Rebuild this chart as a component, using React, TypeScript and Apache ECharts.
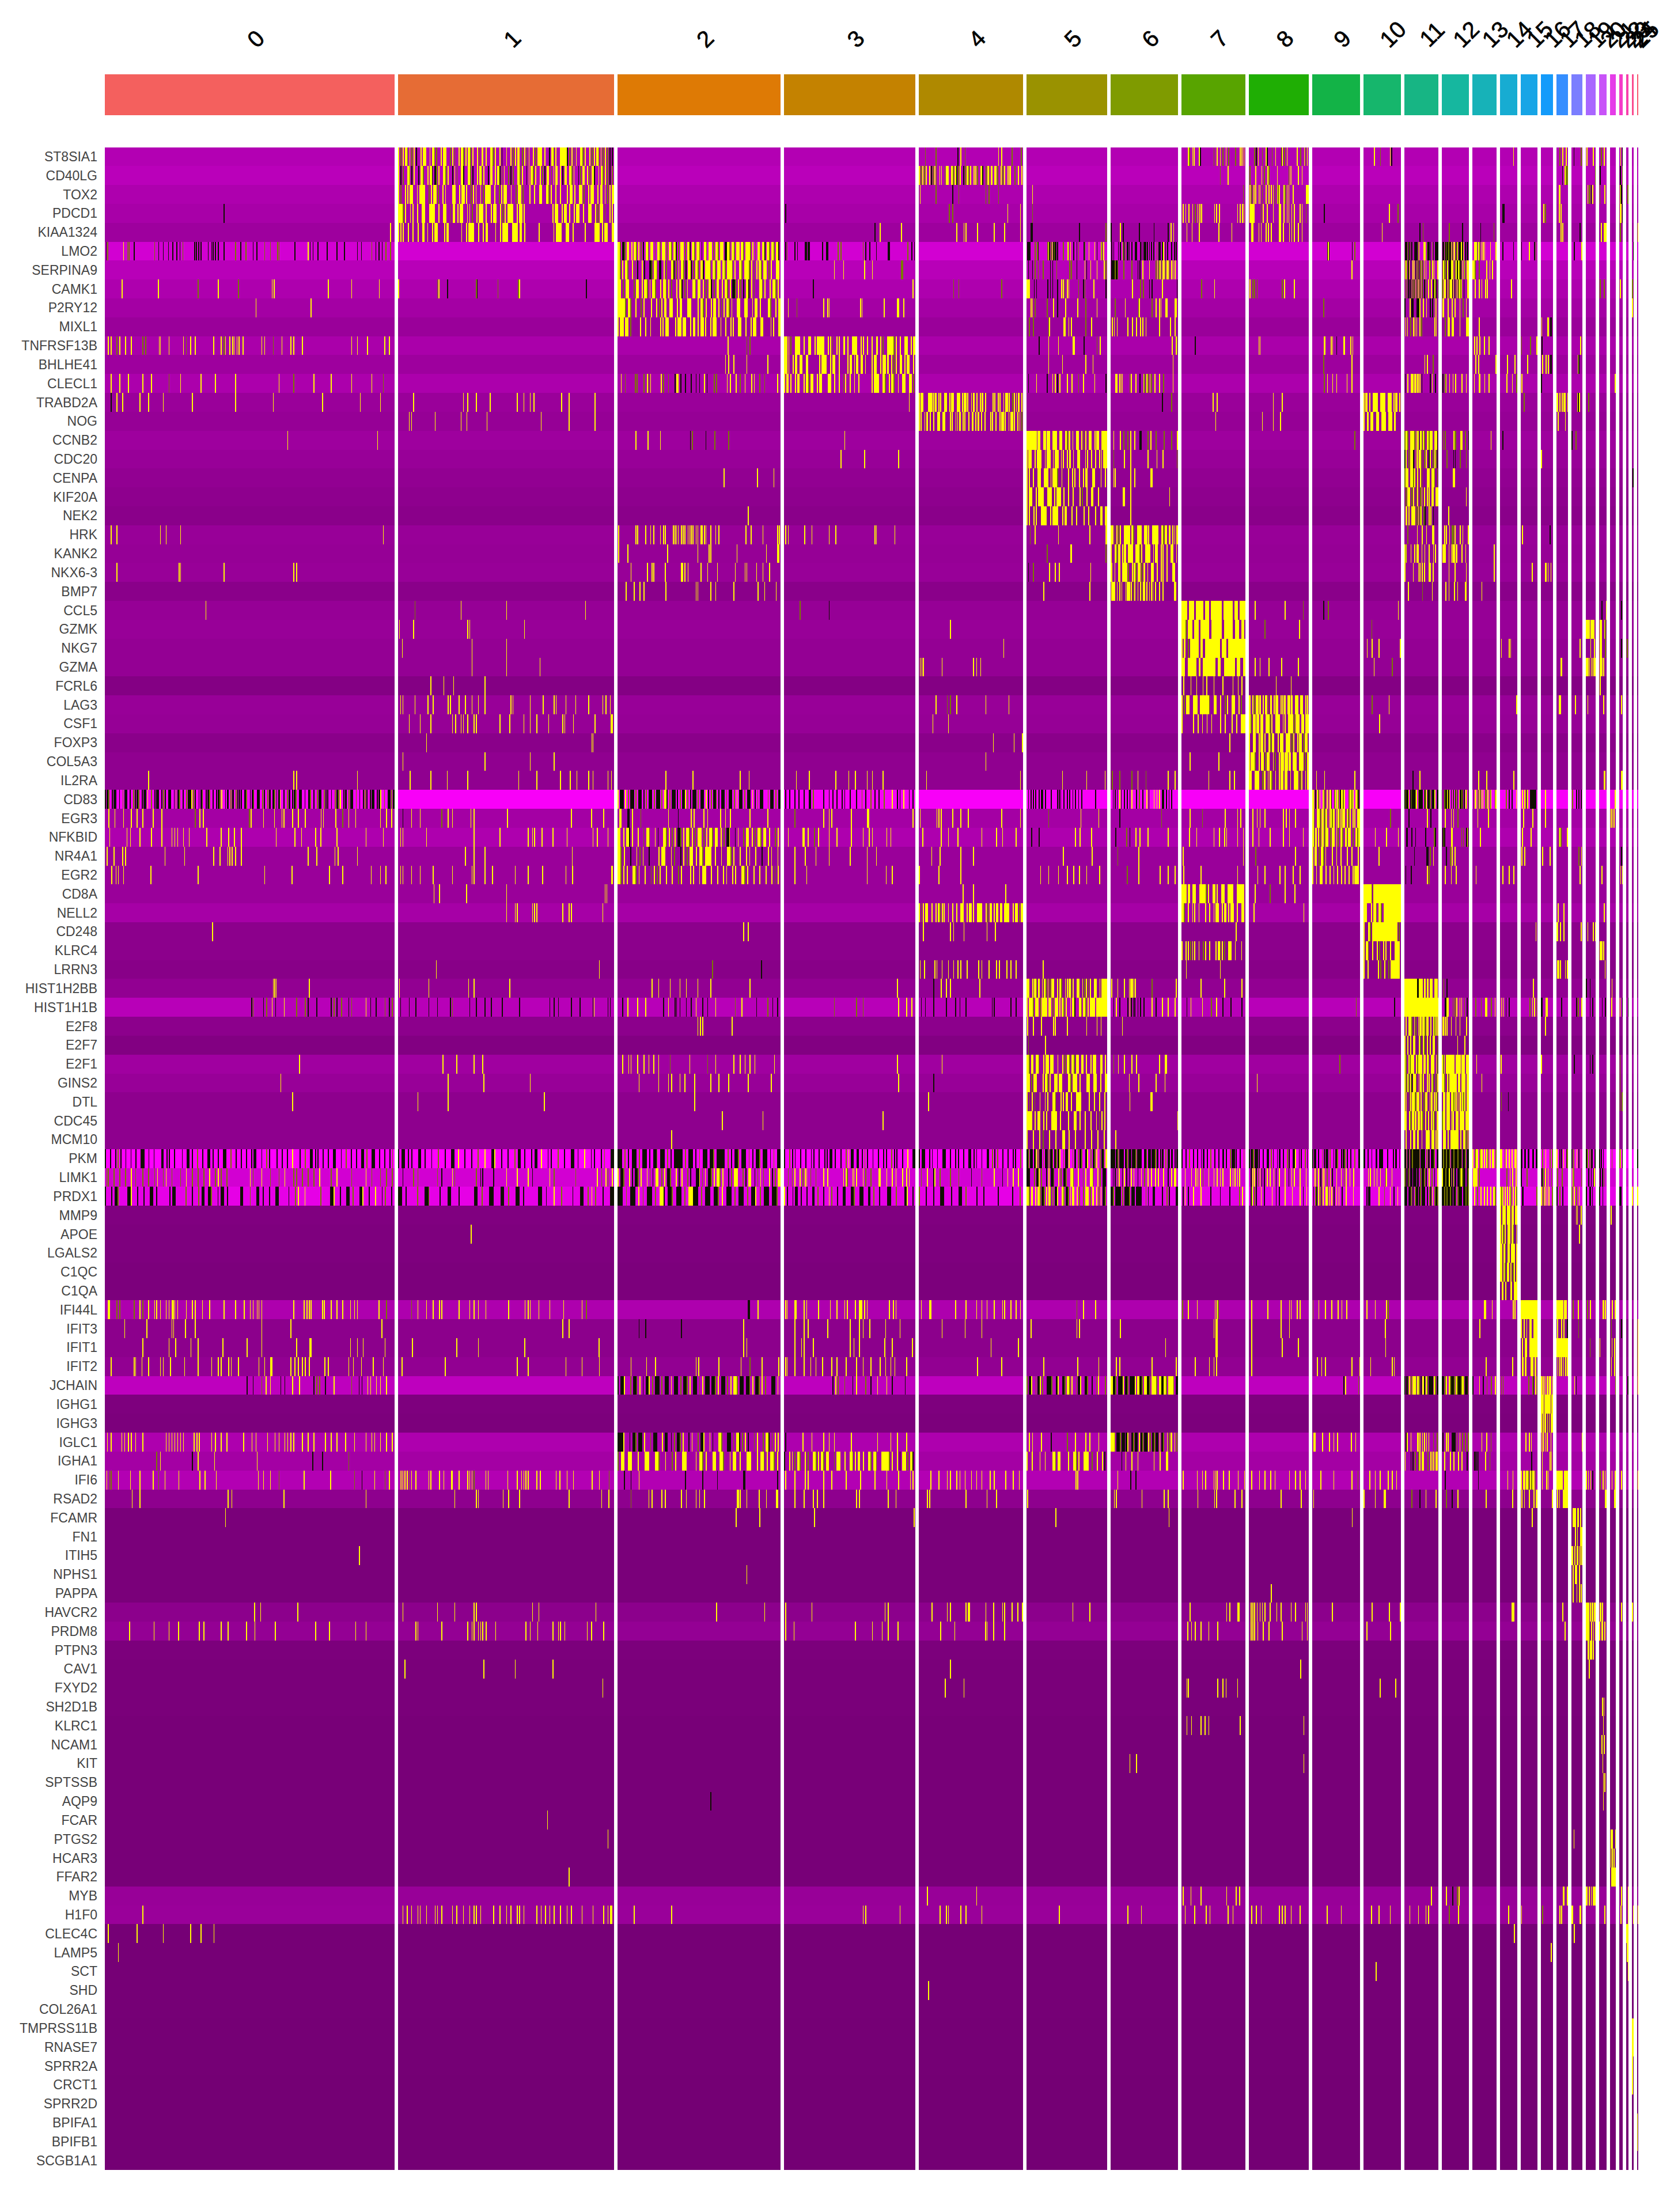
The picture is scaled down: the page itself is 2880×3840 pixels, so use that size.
import React, { useEffect, useRef } from "react";
import * as echarts from "echarts";

const clusterNames = ["0","1","2","3","4","5","6","7","8","9","10","11","12","13","14","15","16","17","18","19","20","21","22","23","24","25"];
const clusterSizes = [503,375,283,228,181,140,117,111,104,83,65,59,47,42,30,29,21,20,19,17,13,10,6,4,3,2];
const clusterColors = ["#F4605E","#E66C35","#DE7A05","#C48200","#AF8900","#9A9200","#7F9B00","#58A400","#1FAE04","#13B347","#16B66C","#17B584","#16B79F","#17B2B8","#17ACD2","#17A5E6","#149BFA","#358EFF","#7B7EFF","#A966FF","#C853F8","#E53DE8","#F53BC8","#F93FAC","#FA4B8E","#F8596F"];
const groupGap = 6;

const genes = ["ST8SIA1","CD40LG","TOX2","PDCD1","KIAA1324","LMO2","SERPINA9","CAMK1","P2RY12","MIXL1","TNFRSF13B","BHLHE41","CLECL1","TRABD2A","NOG","CCNB2","CDC20","CENPA","KIF20A","NEK2","HRK","KANK2","NKX6-3","BMP7","CCL5","GZMK","NKG7","GZMA","FCRL6","LAG3","CSF1","FOXP3","COL5A3","IL2RA","CD83","EGR3","NFKBID","NR4A1","EGR2","CD8A","NELL2","CD248","KLRC4","LRRN3","HIST1H2BB","HIST1H1B","E2F8","E2F7","E2F1","GINS2","DTL","CDC45","MCM10","PKM","LIMK1","PRDX1","MMP9","APOE","LGALS2","C1QC","C1QA","IFI44L","IFIT3","IFIT1","IFIT2","JCHAIN","IGHG1","IGHG3","IGLC1","IGHA1","IFI6","RSAD2","FCAMR","FN1","ITIH5","NPHS1","PAPPA","HAVCR2","PRDM8","PTPN3","CAV1","FXYD2","SH2D1B","KLRC1","NCAM1","KIT","SPTSSB","AQP9","FCAR","PTGS2","HCAR3","FFAR2","MYB","H1F0","CLEC4C","LAMP5","SCT","SHD","COL26A1","TMPRSS11B","RNASE7","SPRR2A","CRCT1","SPRR2D","BPIFA1","BPIFB1","SCGB1A1"];

// scaled expression of the non-expressing cells of every gene
const rowLevels = [-1.75,-1.82,-1.71,-1.65,-1.55,-2.06,-1.8,-1.71,-1.61,-1.51,-1.67,-1.55,-1.69,-1.51,-1.47,-1.55,-1.49,-1.43,-1.39,-1.35,-1.49,-1.47,-1.49,-1.35,-1.47,-1.49,-1.45,-1.45,-1.29,-1.49,-1.47,-1.35,-1.41,-1.41,-2.43,-1.61,-1.71,-1.51,-1.51,-1.51,-1.63,-1.37,-1.37,-1.33,-1.43,-1.8,-1.37,-1.27,-1.57,-1.49,-1.39,-1.39,-1.39,-2.5,-2.06,-2.25,-1.25,-1.24,-1.24,-1.22,-1.22,-1.71,-1.37,-1.37,-1.43,-1.86,-1.24,-1.22,-1.71,-1.61,-1.75,-1.39,-1.2,-1.2,-1.2,-1.2,-1.2,-1.37,-1.45,-1.22,-1.2,-1.2,-1.2,-1.18,-1.18,-1.18,-1.18,-1.18,-1.18,-1.18,-1.18,-1.18,-1.49,-1.51,-1.16,-1.16,-1.16,-1.16,-1.16,-1.15,-1.15,-1.15,-1.14,-1.14,-1.14,-1.14,-1.14];

const cellValue: Record<string, number> = { y: 2.5, o: 1.2, k: 0.15 };

// hits per gene: [cluster, text]. A text with digits lists percent positions inside the cluster; a text without digits is a strip of cells.
const hitsTcell = {
  ST8SIA1: [[1,"yoyYoyoyk.yYy.yYoo.yYy.oyo.yYoyYoy.yoY.y.Yoy.yk.y.yoyY.oyoy.yoYY.y.kYoy.YYYkoyoy.Yoy.yoyYoyoyokk"],[4,"6o 16o 37k 40 44o 76 79 89o 98o"],[7,"10 12o 17 19 27 29k 50o 55 60 64o 69 73o 84o 91 94 97"],[8,"9o 12k 15 22o 28 30k 38o 44 54k 55 59o 63 80 86o 92 94o 97"],[10,"28 44o 70 74k"],[14,"75"],[17,"27o 50 82"],[18,"20k 86o"],[19,"6 72"],[20,"25o 65"],[22,"25 85k"]],
  CD40LG: [[1,"yko.Yoky.kYo.yYkKoy.Yoy.kyo.Yk.Yok.yYoy.kY.yYkoy.oko.Yoy.kyYoy.yokY.oyY.ykY.Yoy.koY.yoYk.yYoyoko"],[4,"yoyoy.ykoyo.yy.oYy.YoYkoy.koYoy.yyo.Yk.oYoY.Yyo.yoy.yY..o.y.y"],[7,"60o 72"],[8,"1o 11 21 25o 31 33o 47 66o 68 70 82 88"],[17,"48k 70 82o 92o 96o"],[19,"96o"],[20,"10k"],[22,"20k 80o"]],
  TOX2: [[1,"yo.yyYy.yYYy.oyYyo.yy..Yy.yYyy.oyy.yoYYy.y.oyYy.y.oYyo..y.y.Yy.Yoy.y.y..yYyy.Yyo.yYy.yY.yoyY"],[4,"1 16o 32k 38o 64o 67o 76o"],[5,"7"],[7,"96o"],[8,"1 4o 8 11 16 18 22o 28 33 37 40 43o 47 48o 50 58 60o 63 66 73 95Y 97Y 99"],[17,"22Y 25"],[19,"15 28o 33o 40o 50k 65"],[20,"5o 72"],[22,"15 40o 55k"],[23,"60o"]],
  PDCD1: [[0,"41k"],[1,"YYoy.yy.y.Yy.YYy.y.Yy.oY.yYy.yyo.yYY.y.yYy.yoyYYy.yYyy...........yYy.yY.y.yYy.y.Yy.yoYyo.yy"],[3,"1k"],[4,"29o 32o 85 97"],[5,"7o"],[7,"2 6 11 17 21o 25 28 31 51 54 59 87 91 95 97"],[8,"1Y 5Y 8 20o 23 30 40 50 52 58 63 66 71 75 85 88 95o"],[9,"24k"],[10,"68 91o"],[14,"14k 21k"],[16,"19 35o"],[17,"20 36"],[22,"20Y 30Y 80k"]],
  KIAA1324: [[0,"98.5"],[1,"yyy.y.y.y.Y.y.yYy..yY.....y.yYYy.y.yY...y.yYYy.YYyY.y.....y.....yYYy.Yy.y....y...YY.yYy.Y"],[3,"69k 73 89"],[4,"36 43 45 56 72 82 97"],[5,"5K 65k 98o"],[6,"0k 14 18k 42k 64k 85k 89 93"],[7,"8 16 27 58 78"],[8,"4 6 16 20 28 32 37 50 52 57 67 71 75 82 88"],[10,"49"],[11,"44k 54o"],[12,"26o 75k"],[13,"33k 87o"],[17,"37 50"],[18,"75k"],[20,"25 65Y 88"],[22,"20o"],[25,"50Y"]],
};
const hitsGc = {
  LMO2: [[0,"0.3k 0.8o 6.3 7.7o 8.2o 10k 17o 18.4k 20k 21.8k 23.3k 24.7k 25.8k 26.8o 30.9k 31.4k 32.3k 33k 35.5k 36.7k 37.2k 38k 39k 41k 45o 46.7k 48.5o 51k 52.3k 55o 57o 59.5o 60o 65.4k 70 70.7k 71.7k 73.4k 76.6k 80k 82.5k 87k 88.4k 92o 93.4k 94.5k 95.6k 96.8o 98.5o"],[2,"YoKoY.yYoyokYoYyoYoYyoYoYkoYyoYkYoYokYoYyoYoYyKYoYoYyYoYYoyoYoYkYoYoYk"],[3,"1k 2o 8k 10k 16K 18K 29k 32k 33k 41o 43o 60o 62k 65k 70k 79K 94o 97k 99k"],[5,"1k 2K 4k 10o 13o 14k 26o 27 28k 30o 32 33k 34o 35k 36k 38k 45o 51 52o 54 58k 62k 64o 71k 72o 77 84 87k 92 93o 95"],[6,"1k 4k 11k 14k 18 19k 21o 24k 25k 27k 31k 36K 44k 46k 49K 52k 54k 57k 60k 63k 64k 68o 71k 73k 76k 78 81k 84k 90k 94k 97k"],[9,"31K 33 83k 88o"],[11,"2k 4K 8o 12k 15o 18k 20k 23k 28K 32K 36k 40o 42 56 60 66o 68k 72k 76k 81o 84k 90K 96K"],[12,"3k 6k 10o 13k 16o 20k 24o 27k 30k 33 38k 40 45 50k 53o 57 62k 66k 70 75k 78 85k 92k 95k"],[13,"8 10 15 18o 24Y 29o 37 44 49 73 95"],[14,"14k 75k"],[15,"2k 48 80k 88o"],[18,"22k 90"],[24,"80k"]],
  SERPINA9: [[2,"YoyYo.yok.yk.KoYoK.yo.YkoyYokYkoYoYkYYoYoYyYoYYoy.YoYYoyoyYoYyoy.Yy"],[3,"38 45 61 67 89o 90o"],[5,"2k 7k 10o 14o 20o 29k 32k 37o 53o 55o 62k 72 74k 79 87 96 98o"],[6,"1K 4K 6o 8K 10o 19o 31o 40k 43k 47 57 67o 69 71o 73 75o 77 79 81o 83 85 87o 90 92 95"],[9,"82"],[11,"1Y 3o 6o 10k 13 18k 24 28 32k 36o 40o 42k 46o 50 52k 57 62 73 75o 82 86 96Y 98Y"],[12,"2o 5 8o 11o 16k 20 26k 30k 33 37 40 44o 48o 52 56k 60 64o 68k 74 80 84o 92Y 95Y"],[13,"1Y 10o 26o 57 71 82"]],
  CAMK1: [[0,"5.8 18.3 32o 39 46o 57.6 58.3 77 85 94.6"],[1,"0 18o 18.7 22.7k 36o 36.5k 46o 55.5o 56 87k"],[2,"YyoYy.oY.yYoyYo.yYoyo.yYkoy.YoY.yoYkoY.yYoyKoyokYkyo.Yoy.yYoy"],[3,"22k 98"],[4,"33o 38o 79o"],[5,"0Y 3 9k 12k 26k 29k 32k 38k 43 45 47o 50 52 64o 70k 72o 83 98k"],[6,"32 44o 48o 57k 61k 76 98k"],[7,"31o 51"],[8,"1 6o 9o 13o 55o 59 75"],[11,"3o 6o 10k 16k 20o 24o 28k 30 36o 40 44o 50 52k 58k 62o 70 78 85k 88 92k 98k"],[12,"1o 7 11 16k 21 26o 30 34 38k 42 46k 50o 55 60o 64 68o 72 80k 93Y 97"],[13,"10 27 37 53 60"],[14,"64"],[20,"8o 62o"],[22,"15"],[24,"10o"]],
  P2RY12: [[0,"52 71"],[2,"YYYoYo.y.oy..y.yoyY.Yy.yY..Yy..yYoy.yY.yoyYoy.Yy.Yy.yY.y..Yo.yY"],[3,"3 9.5o 30 33 34 58 59 76 86 87 91"],[5,"5 7 10o 25o 33 38k 48 63 73o 87"],[6,"6o 21 41o 42 61o 67 72 74 81Y 95 97"],[9,"23o"],[11,"0k 16 20k 22k 25k 36K 39K 44 55 64 75k 82k 89 93"],[12,"2 6 22 37 47 65 77o 89"],[24,"10"]],
  MIXL1: [[2,"yYyYyo...y.y.y...yyYy..yYyYy.yY.yYyy.yYy.y.y.yy.Yy.y.yYy.Y...yy.Y"],[5,"3o 8o 27o 28 46Y 52 55 73o 80"],[6,"2 5 9 25 32 38 44 47 52 72 88 95"],[11,"3 8 17o 26 30 35 44 49o 88 93"],[12,"11o 22Y 37 41 65 89Y 92Y"],[13,"26"],[16,"3 50 58 78K"]],
};
const hitsMem = {
  TNFRSF13B: [[0,"1 2 4o 5 7 9 13o 14o 18.6 19 22 27 28o 29.5 31 37.4 40 41o 41.5 43 44 44.5 45.5 46.2 47.5 54 55 58o 61 64 65 68 85 87 90.5 96.5 98"],[2,"67.6 79o 81o"],[3,"Yyyo.YYy.y.Yy.yYYYy.yyo.yy.Y.y.YYy.yy.y.y.Y.yo.YYYoy.y.Yy.yY"],[5,"15k 27 39 57Y 71k 87o 91"],[6,"91 97 98o"],[7,"21k"],[8,"16 18"],[9,"24 26 39 42 50k 65 67 80 84"],[13,"8 17 29 48 67"],[15,"2o 54Y 56o 94"],[16,"3o 5k"],[18,"80"]],
  BHLHE41: [[2,"66 68 71 79 92"],[3,"Yyy.yY.Yy.Y.....yYYy.yYy.y...yY.yY.Y.y..yYy.yYyY.yoy.Y.yYy.y"],[5,"27 44 73 82"],[6,"92"],[9,"23o 82"],[11,"59 66 83o"],[13,"12 24 95"],[14,"40 84"],[15,"38"],[16,"11 40 58 78K"],[18,"58Y 63k"]],
  CLECL1: [[0,"2 5 8 13 16 22o 26 33 38 45 60 65o 72 78 85 92 96o"],[2,"2 4.5o 10.6o 11.8o 16o 18 19o 20 26.5 28o 31o 35k 36Y 38.6k 41.5k 45k 48k 50k 53 54.6k 59o 60.5o 67 69 72.6 75o 78 82 83.6 87o 90o 98"],[3,"yY.y.yY..yYoYy.yYy..Yy.y.y.oy.y.y.y.....yYYy.Yo.yYo.y.Yy.Yyo"],[5,"2k 12 25k 32 35 38k 41 50 56 64o 70 84 98k"],[6,"7Y 13 15 17 28o 30 37 43k 49 50o 53 55o 58 60o 65 72 78o 92"],[9,"24o 31 42 50 72 82"],[11,"1k 9 19 22 25 29 33 37 39 44 50k 75k 81 90k"],[12,"2k 11o 14 27 40 49 73 89"],[13,"6 27 29 49 67"],[14,"38 69 94o"],[15,"5"],[16,"1k"],[21,"81"]],
  TRABD2A: [[0,"2k 4 6 12 15 20 30 45 58 75 88 95"],[1,"7 30 32 36 42.5 55 58 61 62.7 75.5 79 91"],[3,"95"],[4,"yYy..YYyyY.yy.Yy.yYy.YY.yYyy.yY.y.yY.y...yy.yy.yYyy.oyyY.y"],[6,"76k 90o"],[7,"49 55"],[8,"40 55"],[10,"yY.y.YYy.YYy.YY.yY.y"],[15,"18o"],[17,"0Y 27 45 60 70 95"],[18,"52 60K 68"],[19,"25o"]],
  NOG: [[1,"5 6 17 29 31.6 41 66 79 91"],[4,"yy.yY.y.y.Yy.Yy..yy.yyY.yy.y.Y.yY.y.y..yy.y.yYyy.yYyy.yyo"],[7,"53"],[8,"22 40 52"],[10,"y.Y.Yy.Yy.YYy.YY.Y..."],[17,"10 73"]],
};
const hitsCycleA = {
  CCNB2: [[0,"63 94"],[2,"11 18.5 26 44.4k 45.6o 54k 59.5o 68o"],[3,"46"],[5,"YYYYYyYy.YyYY.YYy.Yy.YoY.y.Yy.yoy.Yy.yYy.YYY"],[6,"4 14 19o 25o 29 35 43K 55o 59 67o 79o 90o 98Y"],[9,"88o"],[11,"oYo.YYYoyYkYoyo.YoYY.YYk"],[12,"4o 11o 43Y 47o 50o 68Y 85o 98k"],[13,"75"],[14,"14k"],[18,"2k 39o"]],
  CDC20: [[3,"43 61 87"],[5,"yYy.yYYy.yYY.yYY.yy.yY.y.Yy..yy.y.y.yyYY"],[6,"4o 20 29 55 68 77 98o"],[11,"ky.oyYk.yyYyo.oY.ky.oYok"],[12,"17o 42k 48k 66o 89o"],[16,"2"]],
  CENPA: [[2,"65 85.5 95.6"],[5,"yy.y.Yy.YY.yYYo.y..y.yy.y.yY..Yy..y.y"],[6,"4 6 29 35 59 61"],[11,"oYy.YYoy.y.yo...YY.YYo.o"],[12,"40Y"],[24,"40k"]],
  KIF20A: [[5,"yYy.yYYy.YY.yYY.y.y.y..yo.y.Y..y..."],[6,"18 20 29 87"],[11,".oYY.oY.oy.oy.y.yY.Yy.YY"],[12,"89"]],
  NEK2: [[2,"80"],[5,"yy.yy.YYy.yYYy.yY..y.y..y.y..y.Y.Y"],[6,"29"],[11,".Y.y.YYY.oyoy.ok..yy.k..."],[12,"24"]],
  HRK: [[0,"2 4 19 21 26 96"],[2,"0.5 11 12 17 20 22 26 28 29 34 35 36 37 39 40 41 43 44 45 46 48 49 51 51.6 53 54 57 60 62 78.6 81.7 89 98 99"],[3,"1 3 15.5 21 34 39 69 70 84"],[5,"4o 10 39 78 98 99"],[6,"Yyoyoy.YYYyYo.YYy.Yyy.YYYy.YoY.Y.yyY"],[11,"9o 37 51 64 82Y 85"],[12,"9 15 27 36O 47 66 76 96"],[15,"8"],[16,"73k"]],
  KANK2: [[2,"0.5 6 30.5 49 56 57 73 91 98 98.7"],[5,"25o 54 55 98o"],[6,"y.YoY.yY.YYy.YYoy.YYy.yYy.yy.y.Yy.y"],[11,"0Y 3o 18 29 36Y 38 50 59 72 84 90"],[12,"2Y 6Y 25 33 38 41 45 50 54 73 87"],[13,"89"]],
  "NKX6-3": [[0,"4 25.5 26 41 65 66"],[2,"8 18 21 22 29 39 39.6 41 43 51 55 61 72 78 79 85 89 93"],[5,"2k 8o 28 35 40 79"],[6,"Y.y.Y.YYyo.yYoYyoY.y.Yy.y.yy.y..Yy."],[11,"0 25 40 44 51 58 72 75 83"],[12,"25 47 89"],[13,"89"],[15,"67"],[16,"32 40 55 79"]],
  BMP7: [[2,"5 10 13.5 16 29.5 48 49 57 60 71 86 90 97"],[5,"21 78"],[6,"1Y 3Y 9 13 16 22 24Y 26Y 30 33o 35 40 44 46o 48 50 53 57 60 62 66 72 77 94Y 96"],[11,"10 52o 81"],[12,"13 25 45 57 86 89"],[13,"37"]],
};
const hitsCyto = {
  CCL5: [[0,"34.7"],[1,"7.6o 29 50 86.6"],[3,"12o 34k"],[7,"YYY.YYY.YYYY.YY.YYYYYY.YYYYY.YY.YYY"],[8,"10 60 90o"],[9,"23k 33o"],[10,"92"],[20,"30K 95Y"],[22,"50k"]],
  GZMK: [[1,"0.4 7 32 33 58.3"],[4,"30"],[7,"YYoYY.YY.YYYY.YYYYY.YYYY.YY.Yy"],[8,"26o 84"],[10,"21o"],[19,"YYYYYYY.YYYYYYY.."],[20,"5Y 20Y 70 78o"]],
  NKG7: [[1,"1.8 34 50"],[4,"81"],[7,"yY.oYYYY.Y.YYYYYYY.YY.YYYYYYYY"],[10,"9 22 40 97"],[14,"6 51 59"],[18,"75"],[19,"45 85"],[20,"5Y 22Y 78o"],[22,"50k"],[23,"30o"]],
  GZMA: [[1,"34 50 65.5"],[4,"1 2.5 4 22 52 55 59"],[7,"Yy.YYYY.Y.YYYYYY.Yy.YYYYY.Yy.Y"],[8,"10 18 33 54 82"],[10,"27 76o"],[17,"33 42"],[19,"YYYY.y.y.y.YYY"],[20,"10Y 30 50 60"]],
  FCRL6: [[1,"15 21 25.5 40"],[7,"3 14 23 33 39 50 64 80 88 94"],[8,"45 70"],[20,"10"]],
  LAG3: [[1,"1 2 7.6 13.6 16 23 24 28 31 34 37 40 52 53 61 67 72 73 77.5 82 88 94.6 96 98"],[4,"16 27o 30o 36 64 86"],[7,"yoYy.YY.YYYYo.Yy.y.oy.Yy.yo."],[8,"Y.yoYyY.yYyoY.yYy.yyY.YyY.YY.Yy.yy"],[10,"22o 67"],[14,"94"],[17,"22Y 25Y"],[18,"32"],[19,"15"],[20,"55"],[22,"50"]],
  CSF1: [[1,"5 10 15 25 26.5 29 30 32 35 36 47 51.5 58 61 64 69.5 76 77 81 91 98.5 99"],[4,"13 28"],[7,"y....y.y.y.y.y...y.y..y.y.YY"],[8,"YoYyYyYy.YYoy.YYy.yy.YYyoYY.YyYY"],[10,"42"]],
  FOXP3: [[1,"13 89.5 90"],[4,"71 91 99"],[7,"75"],[8,"y.Yy.yYyy.YoY..yYY.YYyoy.yYyoYy"]],
  COL5A3: [[1,"2 40 61 72"],[4,"64"],[7,"13 58"],[8,"yYYo.yYyoYy.yo.yYyYyY.YY.YYyoY"]],
  IL2RA: [[0,"15 65 66 87"],[1,"5.4 15 22.6 32 55.7 64 75 79.5 82.6 88 90 97 98.6"],[2,"29.5 46 75 80.5"],[3,"9 19 39 49 54 63 67 75"],[4,"7 97"],[5,"44 74 97"],[6,"2o 13o 31o 40 52o 85 95"],[7,"42 75 82"],[8,"Yy.YYy.oY.yYo.y.yYyYy.y.YYyoy.yY"],[9,"8 25 88"],[11,"24k 44"],[13,"24 58"],[14,"78"],[20,"65 75"],[22,"50 80"]],
};
const hitsActivated = {
  CD83: [[0,"kKo.kKk.k.oKk.k.okKo.kKky.o.kKk.kok.Kk.koKo.k.oKKyok.kKo.kKo.k.kKoy.kK.oK.okkk.Ko.kKo.Kk.ok.oK.KokKy.k.oK.kKo.Kk.k.Ko.k.oKk.okk.k.oKoy.kK.oKk.o.k.kok.kKk.kKy.o.KkoK"],[2,"yKkyoKkoKkkoKkoKkoYkoKkkoKyokKkoKkykoKokKkoKkoyKkoKkykoKk.oKkoK"],[3,"1k 4k 8k 11k 15k 19K 22o 30k 34k 37k 40k 44k 46k 50k 55k 59o 62k 66o 69k 72k 76o 82 86k 88k 91 95k 98k"],[5,"2k 5k 8k 11k 15k 18K 23k 30k 38k 40k 42k 46k 50k 53k 57k 60k 64k 68k 85k"],[6,"3k 6k 9k 13 15k 20k 24k 28k 31 38k 42o 47k 53 56k 64 68 72 76k 78k 82k 86k 90k"],[9,"YokYoy.YokyoYk.oyYokYoy..oYoy.Yok"],[11,"koKky.koKkKoy.okKkk.oky.kko.KkKy.Kk"],[12,"k.kokKyoKy.k.ok.Ko.k.ykKok.k.Yo.k"],[13,"4k 9 12 14 22o 28 32o 37 42 53o 56o 62 72o 75 92o 95"],[14,"33o 51k 68k 92"],[15,"7 22 27o 33k 38 55k 60K 68K 76K 83K"],[16,"35"],[18,"7o 42k 65k 84k"],[21,"81"]],
  EGR3: [[0,"1.2 3.3 6.3 9 11 13 16.5 19.5 31o 32.6 33.8 49.7o 50.3 54.6 58.4 61 61.7 64.7 66.6 69 74.5 75.3 79.6 82o 84 86.4 95 97 98.8"],[1,"2k 6 10 20o 23 25 33.5 35 50.5 80 89.4 95"],[2,"1Y 6K 9 14o 31 37k 45 46.8 52.7 55 63 66 69 81 92"],[3,"8o 30 34 36 51 63Y 98"],[4,"1 17 19 21 32 40 47 79 97"],[5,"27o 67 89"],[6,"13k 75o"],[7,"13 32o 68 87 92"],[8,"6 13 18 26 57 62 67 77"],[9,"Yo.yYoYyoY.yYoY.yYoyYY.YoY.yY.yY"],[10,"71o"],[11,"12k 66 77k"],[12,"11 33 42 58o"],[13,"21 65"],[15,"14 70"],[16,"35"],[21,"11 37 63"]],
  NFKBID: [[0,"1.5 7.5 8.7 12 16 19.5 23 24 25 27 29 35 40 42.6 44.6 47 59 65.4 67.7 72.6 74.4 80 90 96"],[1,"1 2 13 35 47 60 62 63 66.5 71.5 78 90 92 97"],[2,"Y.yYky.y.oYo.yk.YoyoyKoyYoyoYyoyYoY.yoKy.ky.oY.yoYoY.y.oy"],[3,"3 14 15 18 23o 26 34 40 51 60 64.6 67 78 81"],[4,"3.5 21 28 37 60 74 80 93"],[5,"6k 15k 60 66 80"],[6,"7k 23o 28k 37 43 55 85"],[7,"12 23 50 59 67 70 87 96"],[8,"6 16 35 57 67 90"],[9,"YoY.yoYyoYy.oyY.yo.Yo.YoYy.o.YoY"],[10,"30 60 92"],[11,"5k 7k 21k 32k 61k 87o 90k"],[12,"3K 6o 9k 33 36 72o 78o 90K 93"],[13,"32"],[15,"8 60"],[17,"22o 27Y 35o 90"]],
  NR4A1: [[0,"0.6 3 6 7 20.6 27.4 37.4 39.6 42.3 43 43.8 45 47 70 73 79.3 80.4 87"],[1,"31 35 40 80.5"],[2,"Yoy.k.yoy.k..yYy.yo.kyoY.yYoYY.y.y.Yoy.y.yy.y.k.yy.y"],[3,"8 16 24 34 50 63 70"],[4,"12 20 40 52"],[5,"45 81"],[6,"10o 41"],[7,"2 96"],[8,"11o 77"],[9,"yY.oYoy..y.y.y..y.y..y"],[10,"40"],[11,"28k 64K 75o 84"],[12,"15k 30o 37 47"],[15,"2Y 21"],[16,"11 73"],[18,"65o 88"],[22,"50k"]],
  EGR2: [[0,"2.2 3.7 4.5 6.3 15.7 32 55 64.5 77.4 82 91.8 95 96.8"],[1,"1 2 6 10 16 25 34 35 40 43.5 54 60 66.7 77.5 80.6 98.6 99"],[2,"Yoyy.Yoy.y.oyoy.y.y.oy..yy.yYy.y.y.yy.yy.Yoy.y.y.y.yoy"],[3,"8 17 63 77.5 82"],[4,"0 19 40"],[5,"17 27 39 50 58 65 74 90"],[6,"24o 41 73 85 95"],[7,"3 30 87"],[8,"14 26 51 60 73 85"],[9,"y.y.Yy.y.y.y.y.y.y.y.yYYy"],[11,"3k 19k 66 72o"],[12,"11 33 52"],[13,"14"],[14,"14 51 78"],[18,"75"],[20,"30"],[22,"25 75"]],
};
const hitsCd8 = {
  CD8A: [[1,"16.4 19 31.5 50 95.6 96.4"],[4,"42 52 83"],[7,"YYyY.Yy.YYYoy.Yyy.Yy.YYy.YYYy"],[8,"10 35o 60 76"],[10,"YYYYoYYYYYYYYYYYYYY"]],
  NELL2: [[1,"50 54 55 62 63 64 76 79 80 94.6"],[4,"yoyYy.y.yYoyy.y.y.y.Yy.yYyy.YYy.yoY.yY.Y.YYy.yYyoY"],[7,"Yo.y.yy.y..y.y.yYy.yY.yYy.y.Yy"],[8,"8 91"],[10,"Yy.yYoYoYYYYYYY"],[17,"11 62"],[20,"60Y"]],
  CD248: [[0,"37"],[2,"77 80"],[4,"4 30 33 43 65 73"],[7,"85"],[10,"y.YoYYYYYYYYYYYyo"],[15,"88"],[17,"1Y 32 60"],[18,"85"],[19,"15 72 96"]],
  KLRC4: [[7,"y.yyoyy.y.oy.y..yYoyo.Yy.y..y."],[10,"yYo.y.yo.yy.y.YYy"],[20,"5Y 25Y 52Y"]],
  LRRN3: [[1,"17.5 93"],[2,"58o 88k"],[4,"1 5 15 17 22 28 33 37 40 46 57 60 67 74 77 84 88 93"],[5,"20"],[7,"7 60"],[10,"y.y....yo.y.oYYYYy"],[17,"6 16 30 73 90"],[20,"75"]],
};
const hitsCycleB = {
  HIST1H2BB: [[0,"58 58.5 59 70.4"],[1,"0.4 14 32.5 35 51.5"],[2,"21 25 32 38 42 49 57 81"],[3,"86"],[4,"14k 21 26 30 58"],[5,"Yy.yYoY.yYoyoYy.yYo.yyYoy.Yy.yoyoy.Yy.yYYY"],[6,"1 10 20 27 29 30 32 34 36 61o 97"],[7,"30 67 94"],[11,"YYYYYYYYYKYYY.Y.Y.YY.YYy"],[12,"6o 17k"],[15,"73"],[19,"0k 40k"],[21,"25"]],
  HIST1H1B: [[0,"50.5k 51o 54.6k 55.7o 57.6 58.8k 61.8 66o 69o 70k 73k 78k 79o 80k 81.6o 84k 85o 90 91.6k 93.5k 96.6o 98k 99o"],[1,"1k 5k 8k 14k 18k 24k 25o 33k 36k 40k 43k 48k 56k 70k 72k 74k 80k 84k 90k 90.6 97k 98k"],[2,"3k 6 12 17 28k 31 35k 36k 38k 42k 45k 48 52k 55k 60 72o 76 85k 92o 95k 98k"],[3,"38o 55o 60o 87 93 97"],[4,"2k 6k 14k 26k 35k 39k 45k 70k 72k 88k 93k"],[5,"yYYoYyoYYyYyoYyyYoy.yYk.YoYoyYYyYYYYY"],[6,"4k 8 13k 25k 28 30k 33k 35k 40k 44k 49k 61 67k 76 85 95"],[7,"8k 14 32 46o 54 64k 77k 94k"],[9,"91o"],[10,"82k"],[11,"YYYYYYYYY"],[12,"11K 18 22 40o 47o 54 65 72 82o 92k"],[13,"13o 35o 53Y 77o 92"],[14,"5 15 32k 50k"],[15,"52o 68 80 92o"],[16,"2K 4K 38 48"],[17,"40k"],[18,"42k 58o 90"],[19,"40k 65k"],[20,"37k 78k"],[21,"20"],[22,"10 85k"],[23,"75k"]],
  E2F8: [[2,"49 50.5 52 70"],[5,"1 8 18 33 35 50 74 87 92"],[6,"17"],[11,".y.yYo.yo.yYyYyoYY.Y.YoyY"],[12,"2 6 11 17 33 50 65 90"],[16,"35"]],
  E2F7: [[5,"2o 23"],[11,"y.y.y.Yy..Yo.yo.y.y.Yy.o"],[12,"57 83"]],
  E2F1: [[0,"67"],[1,"20.6 27 35 39"],[2,"3 6.6 8 12 16 19 22 25 32o 44 55o 60 71 75 78 81 84 96"],[3,"86"],[4,"22"],[5,"YoY.Yo.yYyYy.y.yoYoYoY.Y.y.yYy.Y.y"],[6,"4o 11 20 31 38 72 80Y"],[9,"57o"],[11,"Yo.YoYYy.YoYyY.yY.Yo.yYY.yo"],[12,"YoY.YYYYYYYY.YYYYY.YYY.YYY"],[13,"16"],[14,"4"],[16,"2"],[18,"22k"],[19,"40k 65k"],[22,"10o"]],
  GINS2: [[0,"60.6"],[1,"23 39.5 61"],[2,"13 25 31 33 38 41 47 57 62 68 80 94"],[3,"87"],[4,"14k"],[5,"YyoYy..yYoy.YyYy..YoYY.y..Yy.Yy.y.Y"],[6,"27 41 67 80"],[8,"13"],[11,"YoyoYkYYo.yYoY..yY.yo.oY"],[12,"YYo.YoYYYYYY.Yy.YYY.Yy"],[13,"37"],[22,"10o"]],
  DTL: [[0,"64.6"],[1,"9 23 67.5"],[2,"47"],[4,"9"],[5,"yoyo.y.yy.Yo.yyY.y.YY...y.y.y.y"],[6,"28 59 61"],[11,"yy.oyYYoYY.y.oYy.yY.yYo"],[12,".YY.yYy.yYoyY.yYyyoy.yY"],[14,"5o 45k"],[22,"10o 70o"]],
  CDC45: [[2,"64 89"],[3,"75"],[5,"YY.yY.yy.YY.y..y.Y.y.y.y.yoyy"],[6,"99"],[11,"Yy.YoYyY.YyYo.y.y.yYo.Y"],[12,"oYY.yYy.yYy.yYy.yYYy.yYy"]],
  MCM10: [[2,"33"],[5,"y.y.yo.y.y.Y.y.y..y.y.y.y"],[6,"7"],[11,".y..Y.Yy.Y..y..YYy.yY.yY"],[12,".Yy.y.YYYYYy.y.Yyoy"]],
};
const hitsHouse = {
  PKM: [[0,"k.k.kok.k.k.k.Kk.k.k..K.kk.k..k.K.k.o.k.K.k.k.Kk.o.k.k.k.kK..k.ok..k.k.k.y..k.o.K.kk.k.k.K..k.o.k.k.K.o.Kk.k.k.ko"],[1,"kK.kk.K.k.k.o.k.K.y.k.k.o.y.Ky.k.k.oK.k.kK.y.kk.o.k.K.k.y.kk.ko.K"],[2,"KkokKkoKkkKoKkokKKkoKkkoKkKoKKkokKoKkokKoKkkoK"],[3,"k.okk.k.k.kk.k.kkK.k.k.oyK.K.kok.k.k.kk.okk.k.y.K"],[4,"kKk.kk.k.Kk.k.kk.k.K.kk.k.K.oko.k.k.kk.o"],[5,"KoKkKyoKkoKkoKoKoKy.oKky.oK.oKo.Ky.oKoy.oKoY"],[6,"KKkKoKKkKoKkKKoKKk.KoKkKKoK.kK.oKkK.kK"],[7,"k.k.o.k.k.kK.k.o.k.k.K.k.oKkk.k.o"],[8,"kKoKkk.k.K.ok.kK.k.ok.Ky.kk.ok"],[9,"kK.k.okKko.kKo.kKok.k.o.K"],[10,"K.k.k.K.KK..k..kK.k"],[11,"KoKoKoKKKKoKKK.oK.KKo.K"],[12,"KoKoKkoKKoKKoKKoKKoKK"],[13,"y.oYy.oYy.y.Yo.y.Yy.o"],[14,"Yy.oy.y.y.Yy"],[15,"K.K.K..K.K"],[16,".o..y...o.o"],[17,"y..k.k.y..kO"],[18,"k.o..y.K.o."],[19,"kO.oKk.k"],[20,"k.k.k..."],[21,".o.."],[22,"Oy.K"],[25,"k"]],
  LIMK1: [[0,"0.5o 1o 3o 5o 7o 9 10.5o 13o 15o 17o 18 20o 21 23o 26o 28 30o 32o 34o 36 38o 39 40o 42o 50 51o 54 57o 60o 62 65o 66o 68o 70o 72o 74 78o 80 85o 90 92o 95o 97o 99o"],[1,"2k 7o 9o 18o 20k 25 26o 36o 38k 39k 44k 50 55 60 62k 70 72o 82o 92 94o 96 97o 99"],[2,"yKo.ykKoy.yokY.oyKo.yky.ok.KyoyKoyYoy.koYy.okY.koyo.ykoY"],[3,"3o 6o 8 12 14o 16 17 20o 24o 30 33 45 47 48o 52 53 55 60 62o 66o 72 73 78 82 85 90 93 95"],[4,"2o 8 14k 15 20o 30o 38o 50k 60o 72 80k 85 90 95"],[5,"Kk.oKyo.kyKo.yoKo.Yo.y.oy.Yo.yoKk"],[6,"3k 6k 9o 12 17k 20 23k 27k 30 34 40k 45 50o 55 60 66 70 78 85k 90 94Y"],[7,"5 15 22 25 29 33o 42 50 55 60 64 76 80 83 87 90"],[8,"3k 6 9 12k 15o 18 21k 25k 30 35 41 45k 50 60 66k 71 75 85 95"],[9,"5 8o 12 17k 22 25 30o 37 41k 50 60 66o 70 78 86"],[10,"12 17 27 35 44 58o 60 75"],[11,"okKoKkKKkK.oKkoK.y.o.k.Y"],[12,"yKkoKkyKoKyKk.KkoYoKk.Ko"],[13,"3Y 8Y 13Y 27o"],[14,"38o 55 70 90"],[15,"1k 35o"],[16,"5k 15o 35 55 85o"],[17,"5o 45o"],[18,"12Y 17o 88o"],[19,"25k 50k 75k 83"],[20,"10k 40k 60o"]],
  PRDX1: [[0,"k.kKo..Ky.k.k.K.k...kK...o.k.oK.Ko.kK.k...K..o.K.k.k.K...k.oy.y....o..Ky.k.K.o.Ky.k.y.ko.k"],[1,"K.k..o.Ko..k.K..k...K.o.Kk.K.o.K.k...K.k.y.o..k.K.oyo.k.K"],[2,"KkoKkyoKkoYkKoKkoYKkoKkKoyKkoKkoKyoKkKo"],[3,"yk.kK.k.k.K.o.k.yo.k.K..Ko.Kk.K.o.k..Kk.o..Ky.k"],[4,"o.k.k.K..k.K.o..k.k...k...k.o"],[5,"YoY.yYoKoyYkoKy.YoKoyY.yo.oYyoY.yoyKo"],[6,"KoKKkoKKoKkKKk.ok.K...k.ok..K"],[7,"2k 5 10k 18 30 45k 60k 75k 90o 95"],[8,"3k 5 9o 12k 20 25k 38 45k 50k 60 72 85 90k 96"],[9,"2k 6o 9k 12 16o 19k 22 28Y 32o 36 40 45k 50 55 62k 70 85"],[10,"8k 12K 40 55o 70 80k 90"],[11,"kK.kKoK.oKkKoKKk.K.oky.oKo"],[12,"KKoKoKKoKkKKo.oKkK.kKoKo"],[13,".y.o.y.Y.y.y.Yo"],[14,"YoY.Y.y.Yo.Y.yo"],[15,".KK...............o"],[16,"y.o.y.y.y...o"],[17,"k.o.k..."],[18,"o.y.o.y.."],[19,"K..K.k.."],[20,"k..k..."],[22,"kK."],[24,"y."],[25,"y"]],
  MMP9: [[14,"Y.YyY.yYy.Yy.YY"],[18,"40 52 85"],[21,"11"]],
  APOE: [[1,"33.7"],[14,"yYoY.YY.Yo.y"],[18,"68"]],
  LGALS2: [[14,"Yy.Yo.yY.yYY.Y"]],
  C1QC: [[14,"yY.yo.YY.y.oy.Y"]],
  C1QA: [[14,".Y.y..Y.YY"]],
};
const hitsIfn = {
  IFI44L: [[0,"1Y 4o 5o 10o 12 13o 15 17 17.7 19 21 22 23Y 23.6 24 25 28 30 31 33.5 36 41 45 48 50 51 52.4 53 54 65 68.6 69.6 70.4 71 75 75.6 78 80 82 84.6 86 87 94.5 97o"],[1,"6o 9 13 16 19 20 28 33 35 37 40.5 51 58.6 60 61 65 70 76.4 85 87o"],[2,"80K 86"],[3,"1 2 8Y 15 17 26 35 40 46 48 54 57 58Y 61 63 80 83 85"],[4,"2 10Y 35 45 55 60 65 72 80 82 88 93 97"],[5,"62o 70 85"],[7,"1o 10 24 52 55Y 57o"],[8,"4 31 53 67 70 80 85"],[9,"1o 13 27 40 53 61 71"],[10,"8 30 60 65o"],[13,"48Y 80"],[14,"73 84"],[15,"YYYYYYYYYYYY"],[17,"YYYYYYY.YYY."],[18,"12o 60"],[19,"12o 44"],[20,"48Y 78"],[21,"25Y 80"]],
  IFIT3: [[0,"6.7 14.4 23 23.6 27.7 31 54 64 95.5"],[1,"76 79"],[2,"13k 17k 39k 77"],[3,"8 15 18 33 50 57 60 65 77 88"],[4,"22 44 60"],[5,"5 62 65"],[6,"14"],[7,"50 53Y"],[8,"4 53 67"],[10,"57"],[13,"29"],[15,"Y.Y.y.YY.YYY"],[17,"7 40 60 92K"],[18,"62o"],[21,"15o"],[22,"50k"],[25,"50"]],
  IFIT1: [[0,"13 22 24.3 29.6 32 40.6 49 54 66 70.6 71 84.6 87 89 96.6"],[1,"6.4 27 37 58.5 92.8"],[2,"77 79"],[3,"8 13 15 22 50 53 57 76.5 82 97.5"],[4,"69 95"],[6,"81"],[7,"53Y 55"],[8,"4 55 82"],[10,"58"],[15,".y.Yy.YYYYYY"],[17,"YYYYYYYYYY"],[19,"40o"],[20,"5"],[21,"28 72"],[25,"50"]],
  IFIT2: [[0,"2 10 10.5 12.7 15 19 20 22.5 27.4 32 36.7 39 40 42.6 43.5 46 53 55 57Y 64 65.4 66.6 68 69 70.4 75.8 77 84 85.6 88.4 92.5 96"],[1,"1.6 21.6 55 60 77.5 85 93"],[2,"8 17.5 23 48 49.5 62 75.5 81o 88.5 98.7"],[3,"1 2 8 15 20 24 29 36 40 47 55 60 66 73 77 81 84 93"],[4,"56 79"],[5,"21 63 89"],[6,"8 13 61 97"],[7,"21 43 50 54"],[8,"4"],[9,"10 19 27 82 99"],[10,"18 76 81"],[13,"55"],[14,"71"],[15,".Y.Y...YY.Y."],[17,".y.y.Y.y.y.Y"],[21,"18 72"],[25,"50"]],
};
const hitsIg = {
  JCHAIN: [[0,"49k 51k 54o 55.5 57 60.6k 62k 64.7 67 72k 73o 74o 76k 79 85o 87.6k 88.6k 90.6 91.6 93.6 95 97"],[2,"kKy.oKoykKyoKkoKkyKkoKoyKkoyKkKoyKkoyYoKkKoyKoyo.Kky"],[3,"37k 39 41o 46o 52k 55 62o 66k 71 78 82k 92k"],[5,"oKy.oKyo.KKo.Ky.KoYoy.oKy.Ko.k.oy..o"],[6,"YKoKKyKoKKyYKoYKoYYoYKYoYYoK"],[9,"65k 69 96o"],[11,"kKoyoYYoYokYkYoKKkYoK"],[12,"KkoY.YoKKoYoKKoYoKKo"],[13,"1k 28 43k 59o 77o 93"],[14,"5o 15o"],[15,"46o 69o 75k 87 95o"],[16,"YY.Y.y.yy.YYY.Y"],[18,"25 40k"],[21,"85o"],[23,"55K"],[25,"50"]],
  IGHG1: [[16,"YYY.YYYYYYY.YY"]],
  IGHG3: [[16,"y.Y.Yy.Y.Y.YYY"]],
  IGLC1: [[0,"0.7 2 5.7 6.7 8 9 10.5 13 21 22 23 24 25 26 27 30.6 31.6 32.5 36.7 38 40 42 47.7 50.6 52 56 58.6 60 62 63 64 65 68 70 72 76 78 80 83 86 90 92 93 95 97 99"],[2,"KKy.kKoKky.oKk.yK.koKoy.ky.oKy.yk.Yo.KkoYkoyk.oy.oYkoyy"],[3,"1k 14 21 30 34 38 51 71 81 86 93"],[5,"3 7 18 30k 50o 60 73 78 89"],[6,"YYoKKoKkKyoKoKkyKoKkyoKoKkyKo.yoY.yo"],[9,"2Y 21 35 44 52 81 90"],[11,"4k 7 18 37 39 44 52 58 64 71 84o 95o"],[12,"2k 15 22 36K 43K 55o 65 75o 85o 96o"],[13,"37 57 75o"],[15,"29 48 61"],[16,"3 15 32 48 79"],[18,"95Y"]],
  IGHA1: [[0,"17.7o 19 30k 32 37.7 52.4 71.6k 75k 84o"],[2,"oY.Yy.y.Yy.Yo.y.oy.Yy..yYoy.Y.Yo.yY.y.Yy.yYoyYoy"],[3,"k.yyoYo.yo.YoyYoY..oYy.y.YoyY.y.YoYo.YYYoy.ykYyoYk"],[5,"y.y..y.y..YoY...y.Yoy.YY.o.y.yk"],[6,"16k 22 31 40 64 73 82Y"],[11,"1 18k 24k 31o 41o 44 50Y 68o 77 81 85 92Y"],[12,"9 30 43 60 73 92k"],[13,"6k 10k 17k 23k 53 71o"],[15,"63k"],[16,"9 73 84"]],
  IFI6: [[0,"0.5 1.5o 2o 4.5 8.7 12 16.5 18.4o 20.6 25.4 32.6 34.4 38.3 52.8 54.6 57 60o 68.6 77.8 86o 88.6k 93 96.6o 98"],[1,"1 1.5 2 3 4 5o 6 8 14 15 19 21 24.6 25 28 32 33 34 35o 40.5 41.5 50.6 54.8 55 57 58 59 60 64 65.7 73 74.8 78 81 89.7 93 97.5o"],[2,"4k 8k 13 41.5k 52k 61k 77K 98k"],[3,"1 8 16 18 30 36 47 58 69 78 87 96 98"],[4,"11 19 27 30 36 39 44 50 55 60 68 72 83 90 96"],[5,"61 63"],[6,"10 29k 37k"],[7,"2 24 32 37 50 53 55 65 74 88 98"],[8,"4 17 26 36 43 67 77 85 94"],[9,"17 44 82 95o"],[10,"16 30 43 65 76 87"],[12,"11k"],[13,"23k"],[14,"42 72"],[15,"Y.YyYYoYoYyo."],[16,"9 43 56"],[17,"YYYYYY.YYYY"],[19,"2 21 45 66k"],[20,"10o 46 76"],[21,"25 80"],[22,"50"],[25,"50"]],
  RSAD2: [[0,"9.3 12 42.4 43.7 61.7 90"],[1,"26 36 37 48.5 51 56 79 94 97.4"],[2,"8o 19 21 27 29 39 42 48 50 53 73Y 75 79 86.7 91 97Y"],[3,"8 15 22 25 30 55 57 79 85"],[4,"8 10 45 65 74"],[5,"1"],[6,"5 8 46 79 85"],[7,"25 51 54 83 94"],[8,"53 87"],[9,"2"],[10,"0 30 54 57"],[11,"21o 44k 62 92"],[12,"15o 36k 58"],[13,"55"],[14,"71"],[15,"5 20 48 75Y 90Y"],[16,"92"],[17,"6 24 55Y 70Y 85Y"],[20,"75 85"],[21,"72Y"]],
};
const hitsRareA = {
  FCAMR: [[0,"41.5"],[2,"72.6 87"],[3,"23 98.8"],[5,"36"],[6,"86"],[9,"83"],[15,"67"],[18,".yYY.yy.Y."]],
  FN1: [[18,"...y.Y..YY"]],
  ITIH5: [[0,"87.7"],[18,"YY.y.YY.Y.Y"]],
  NPHS1: [[2,"79"],[18,".y.yY..y.."]],
  PAPPA: [[8,"36.5"],[18,"12 45 68 85"]],
  HAVCR2: [[0,"51.5 53.6 66.5"],[1,"2 18 26 35 36 62 65 91.4"],[2,"60.6 90"],[3,"1 21 76.6 79"],[4,"12.4 27 30 45 47Y 64 71.3 80 82 89 94.6 99"],[5,"57 78"],[7,"13 70 75 87Y"],[8,"3 6 9 13 18 22 26 35 46 53 70 77 94 97"],[9,"41"],[10,"22 68 97"],[14,"68Y 76Y"],[17,"52"],[19,"YYYY.Y.YY.YY"],[20,"5Y 15Y 35Y"],[22,"50"],[24,"15"]],
  PRDM8: [[0,"8.4 16.8 22 25.3 32.5 34 40 42.4 48.8 51.6 58.7 72.6 77.4 86.4 90"],[1,"8 9 20 32 34 35 37 38 39 40.6 45 59 61 64.5 71.5 74 75 77 87.4 89.4 95"],[3,"1 7.4 54 67 74.5 79 86.5"],[4,"20.5 34 63.5 65 71.4 82"],[7,"9 15 21 30 42 56"],[8,"3 6 9 14 23 33 55 88 97"],[10,"8 71"],[17,"70"],[19,"YYYYo.YY.y.Y"],[20,"Y.Yy.y."]],
  PTPN3: [[19,"20Y 40Y 55 70"]],
  CAV1: [[1,"3 39.5 54 71.5"],[4,"30"],[8,"86"],[19,"30"]],
  FXYD2: [[1,"94.6"],[4,"25 43"],[7,"8 10 56 64 69 87"],[10,"43 85"]],
  SH2D1B: [[20,"40 60"]],
  KLRC1: [[7,"8 15 30 36 42 91"],[8,"91"],[20,"50"]],
  NCAM1: [[20,"30 65"]],
  KIT: [[6,"28 38"],[8,"91"],[20,"45"]],
  SPTSSB: [[20,"50 70"]],
  AQP9: [[2,"57k"],[20,"50"]],
};
const hitsRareB = {
  FCAR: [[1,"69"]],
  PTGS2: [[1,"97"],[18,"20"],[21,"10 30 90"]],
  HCAR3: [[21,"5 30 60"]],
  FFAR2: [[1,"79"],[21,"15Y 30Y 60Y 80Y"]],
  MYB: [[4,"8 55"],[7,"2 14 30 70 85 90"],[11,"78"],[12,"15 39k 56o 62"],[17,"57Y 90"],[19,"YY.Y.y.YYY"],[22,"50"],[23,"75"]],
  H1F0: [[0,"13"],[1,"2 4 6 9 10 13 17 18 20 25 27 30 33 35 36 38 44 47 50 52 55 56 58 64 66 68 70 72 75 78 80 85 90 95 97 98Y"],[2,"10 33"],[3,"60 62 88"],[4,"20 26 28 40 45 60"],[5,"40"],[6,"25 45"],[7,"5 20 38 44 72 80"],[8,"4 12 20 50 55 60 70 85"],[9,"30 60"],[10,"20 40 70"],[11,"15 40 62 70"],[12,"26o 60"],[14,"47"],[15,"3"],[16,"10o"],[17,"25 40"],[18,"1Y 75Y"],[20,"70"],[22,"40"],[23,"75"],[24,"50"],[25,"50"]],
  CLEC4C: [[0,"1 11 20 29.5 33 37.5"],[14,"81"],[18,"22"],[23,"YY"]],
  LAMP5: [[0,"4.5"],[16,"83"],[23,"25 60"]],
  SCT: [[10,"33"],[23,"70"]],
  SHD: [[4,"9"]],
  TMPRSS11B: [[24,"YYY"]],
  RNASE7: [[24,"YYY"]],
  SPRR2A: [[24,"10"]],
  CRCT1: [[24,"YY."]],
  BPIFA1: [[25,"Y."]],
  BPIFB1: [[25,"Y."]],
};

const hitTables: Record<string, [number, string][]>[] = [hitsTcell, hitsGc, hitsMem, hitsCycleA, hitsCyto, hitsActivated, hitsCd8, hitsCycleB, hitsHouse, hitsIfn, hitsIg, hitsRareA, hitsRareB] as any;

const totalColumns = clusterSizes.reduce((a, b) => a + b, 0) + groupGap * (clusterSizes.length - 1);
const clusterStarts: number[] = [];
clusterSizes.reduce((pos, size, i) => { clusterStarts[i] = pos; return pos + size + groupGap; }, 0);

function buildCells() {
  const base: number[][] = [];
  const marks: number[][] = [];
  genes.forEach((_, row) => {
    clusterSizes.forEach((size, c) => base.push([clusterStarts[c], clusterStarts[c] + size, row, rowLevels[row]]));
  });
  const push = (row: number, c: number, from: number, width: number, code: string) => {
    const end = clusterStarts[c] + clusterSizes[c];
    const a = Math.min(from, end - 0.8);
    marks.push([a, Math.min(a + width, end), row, cellValue[code.toLowerCase()]]);
  };
  hitTables.forEach((table) => {
    Object.keys(table).forEach((gene) => {
      const row = genes.indexOf(gene);
      table[gene].forEach(([c, text]) => {
        const start = clusterStarts[c];
        const size = clusterSizes[c];
        if (/\d/.test(text)) {
          text.split(" ").forEach((tok) => {
            const m = tok.match(/^([\d.]+)([a-zA-Z]?)$/);
            if (!m) return;
            const code = m[2] || "y";
            const wide = code === code.toUpperCase();
            push(row, c, start + (parseFloat(m[1]) / 100) * size, wide ? Math.min(4, Math.max(2.5, size * 0.08)) : 1.6, code);
          });
        } else {
          const span = size / text.length;
          text.split("").forEach((ch, i) => {
            if (ch === ".") return;
            const wide = ch === ch.toUpperCase();
            push(row, c, start + i * span, wide ? span : Math.min(span, 1.8), ch);
          });
        }
      });
    });
  });
  return base.concat(marks);
}

export default function App() {
  const ref = useRef<HTMLDivElement>(null);
  useEffect(() => {
    const chart = echarts.init(ref.current!, null, { renderer: "svg", width: 2880, height: 3840 });
    const font = '"Liberation Sans", Arial, Helvetica, sans-serif';
    const labelSize = 40;
    const groupBars = clusterSizes.map((size, i) => [clusterStarts[i], clusterStarts[i] + size, i]);
    chart.setOption({
      animation: false,
      backgroundColor: "#ffffff",
      grid: [
        { left: 182, width: 2662, top: 129, height: 71 },
        { left: 182, width: 2662, top: 255.5, height: 3511.5 },
      ],
      xAxis: [
        { type: "value", gridIndex: 0, min: 0, max: totalColumns, show: false },
        { type: "value", gridIndex: 1, min: 0, max: totalColumns, show: false },
      ],
      yAxis: [
        { type: "value", gridIndex: 0, min: 0, max: 1, show: false },
        {
          type: "category", gridIndex: 1, data: genes, inverse: true,
          axisLine: { show: false }, axisTick: { show: false }, splitLine: { show: false },
          axisLabel: { interval: 0, fontSize: 23, color: "#444444", fontFamily: font, margin: 13 },
        },
      ],
      visualMap: {
        show: false, type: "continuous", seriesIndex: 1, dimension: 3, min: -2.5, max: 2.5,
        inRange: { color: ["#FF00FF", "#000000", "#FFFF00"] },
      },
      series: [
        {
          type: "custom", xAxisIndex: 0, yAxisIndex: 0, silent: true, clip: false, data: groupBars,
          encode: { x: [0, 1] },
          renderItem: (_: any, api: any) => {
            const i = api.value(2);
            const a = api.coord([api.value(0), 1]);
            const b = api.coord([api.value(1), 0]);
            const mid = (a[0] + b[0]) / 2;
            const name = clusterNames[i];
            const half = (name.length * 0.556 * labelSize) / 2;
            const along = half * Math.SQRT1_2;
            return {
              type: "group",
              children: [
                { type: "rect", shape: { x: a[0], y: a[1], width: b[0] - a[0], height: b[1] - a[1] }, style: { fill: clusterColors[i] } },
                {
                  type: "text", x: Math.min(mid + 2.5 + along, 2880 - half - 1), y: 75 - along, rotation: Math.PI / 4,
                  style: { text: name, fill: "#000000", stroke: "#000000", lineWidth: 0.7, font: `${labelSize}px ${font}`, align: "center", verticalAlign: "middle" },
                },
              ],
            };
          },
        },
        {
          type: "custom", xAxisIndex: 1, yAxisIndex: 1, silent: true, progressive: 0, data: buildCells(),
          dimensions: ["from", "to", "gene", "value"],
          encode: { x: [0, 1], y: 2 },
          renderItem: (_: any, api: any) => {
            const a = api.coord([api.value(0), api.value(2)]);
            const b = api.coord([api.value(1), api.value(2)]);
            const h = api.size([0, 1])[1];
            const x0 = Math.round(a[0]);
            const x1 = Math.max(Math.round(b[0]), x0 + 1);
            const y0 = Math.round(a[1] - h / 2);
            const y1 = Math.round(a[1] + h / 2);
            return { type: "rect", shape: { x: x0, y: y0, width: x1 - x0, height: y1 - y0 }, style: { fill: api.visual("color") } };
          },
        },
      ],
    });
    return () => chart.dispose();
  }, []);
  return <div ref={ref} style={{ position: "absolute", left: 0, top: 0, width: 2880, height: 3840 }} />;
}
